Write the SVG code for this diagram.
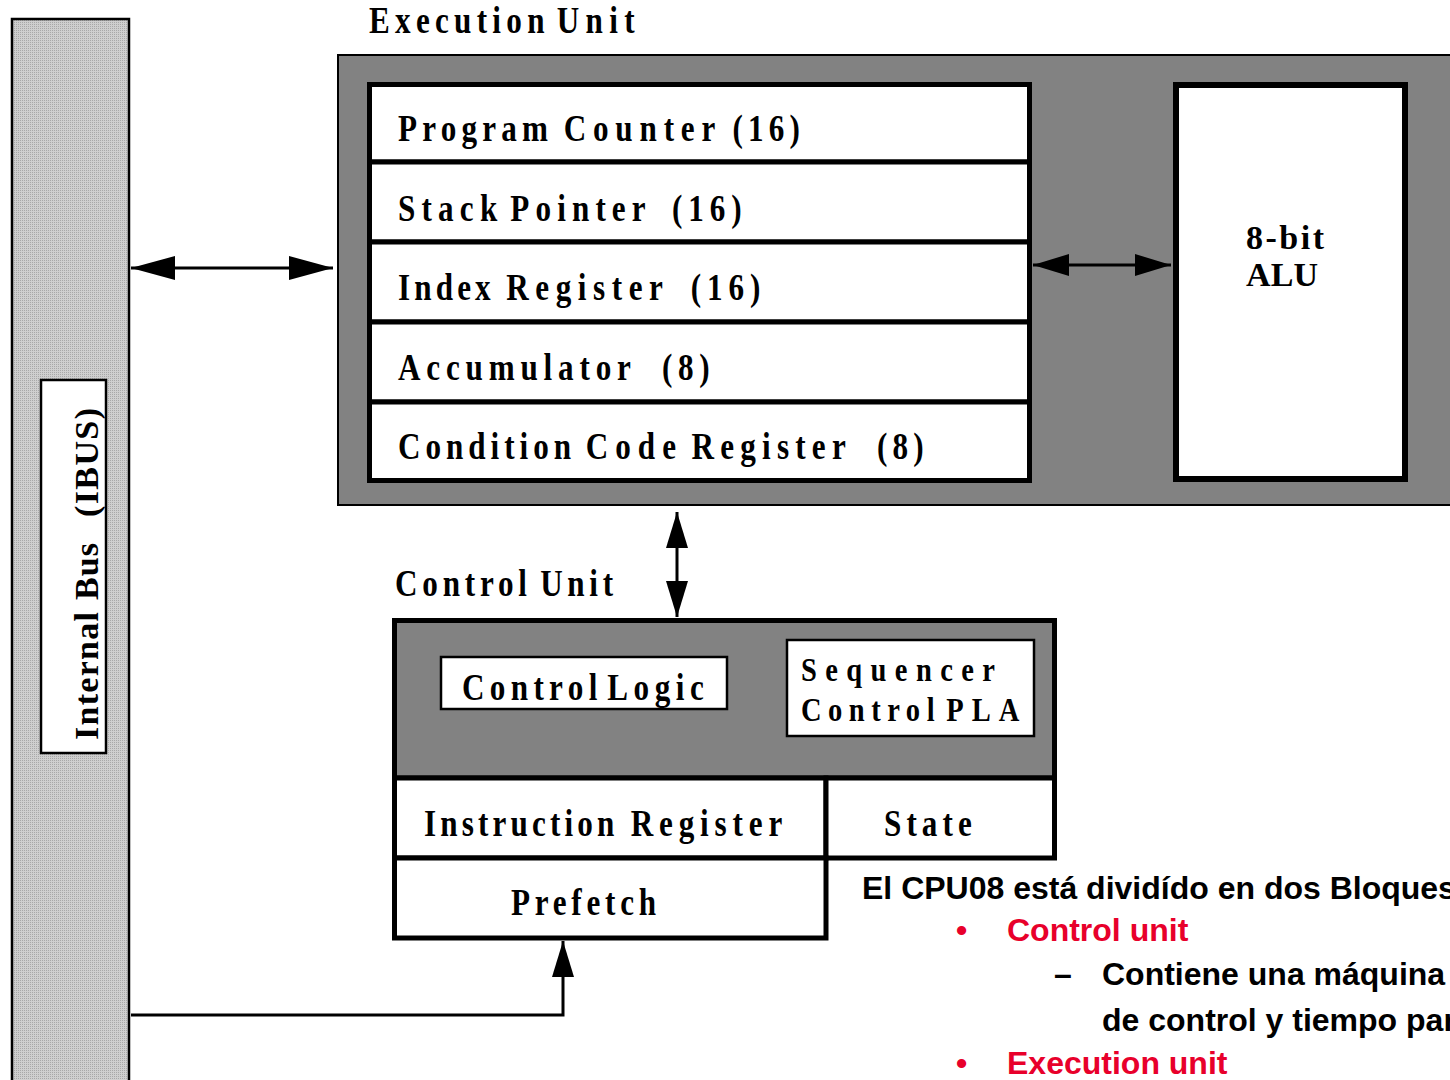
<svg xmlns="http://www.w3.org/2000/svg" width="1450" height="1080" viewBox="0 0 1450 1080">
<style>
.cond{font-family:"Liberation Serif","Times New Roman",serif;font-weight:bold;font-size:38px;fill:#000}
.cond-s{font-family:"Liberation Serif","Times New Roman",serif;font-weight:bold;font-size:34px;fill:#000}
.serif{font-family:"Liberation Serif","Times New Roman",serif;font-weight:bold;font-size:34px;fill:#000}
.sans{font-family:"Liberation Sans",Arial,sans-serif;font-weight:bold;font-size:32px;fill:#000}
.red{fill:#e8002b}
.panel{fill:#828282;stroke:#000;stroke-width:2}
.reg{fill:#fff;stroke:#000;stroke-width:5}
.thin{fill:#fff;stroke:#000;stroke-width:2.5}
.conn{fill:none;stroke:#000;stroke-width:3}
</style>
<defs>
<pattern id="hatch" width="2" height="2" patternUnits="userSpaceOnUse">
<rect width="2" height="2" fill="#cfcfcf"/>
<rect width="1" height="1" fill="#a8a8a8"/>
</pattern>
<marker id="big" viewBox="0 0 44 24" markerUnits="userSpaceOnUse" markerWidth="44" markerHeight="24" refX="44" refY="12" orient="auto-start-reverse">
<path d="M0,0 L44,12 L0,24 z" fill="#000"/>
</marker>
<marker id="sm" viewBox="0 0 36 22" markerUnits="userSpaceOnUse" markerWidth="36" markerHeight="22" refX="36" refY="11" orient="auto-start-reverse">
<path d="M0,0 L36,11 L0,22 z" fill="#000"/>
</marker>
</defs>

<g id="internal-bus">
<rect x="12" y="19" width="117" height="1080" fill="url(#hatch)" stroke="#000" stroke-width="2.5"/>
<rect x="41" y="380" width="65" height="373" class="thin"/>
<text class="serif" transform="translate(98,740) rotate(-90)"><tspan x="0" textLength="128">Internal</tspan><tspan x="140" textLength="57">Bus</tspan><tspan x="223" textLength="109">(IBUS)</tspan></text>
</g>

<g id="execution-unit">
<rect x="338" y="55" width="1130" height="450" class="panel"/>
<text class="cond" transform="translate(369,33) scale(0.82,1)"><tspan x="0" textLength="214">Execution</tspan><tspan x="229" textLength="95">Unit</tspan></text>
</g>

<g id="program-counter">
<rect x="369.5" y="84.5" width="660" height="77.5" class="reg"/>
<text class="cond" transform="translate(398,141) scale(0.82,1)"><tspan x="0" textLength="183">Program</tspan><tspan x="202" textLength="185">Counter</tspan><tspan x="408" textLength="82">(16)</tspan></text>
</g>
<g id="stack-pointer">
<rect x="369.5" y="162" width="660" height="80" class="reg"/>
<text class="cond" transform="translate(398,221) scale(0.82,1)"><tspan x="0" textLength="121">Stack</tspan><tspan x="137" textLength="165">Pointer</tspan><tspan x="334" textLength="85">(16)</tspan></text>
</g>
<g id="index-register">
<rect x="369.5" y="242" width="660" height="80" class="reg"/>
<text class="cond" transform="translate(398,300) scale(0.82,1)"><tspan x="0" textLength="113">Index</tspan><tspan x="132" textLength="191">Register</tspan><tspan x="357" textLength="85">(16)</tspan></text>
</g>
<g id="accumulator">
<rect x="369.5" y="322" width="660" height="80" class="reg"/>
<text class="cond" transform="translate(398,380) scale(0.82,1)"><tspan x="0" textLength="284">Accumulator</tspan><tspan x="322" textLength="58">(8)</tspan></text>
</g>
<g id="condition-code-register">
<rect x="369.5" y="402" width="660" height="78.5" class="reg"/>
<text class="cond" transform="translate(398,459) scale(0.82,1)"><tspan x="0" textLength="211">Condition</tspan><tspan x="229" textLength="110">Code</tspan><tspan x="358" textLength="188">Register</tspan><tspan x="584" textLength="57">(8)</tspan></text>
</g>

<g id="alu">
<rect x="1176" y="85" width="229" height="394" fill="#fff" stroke="#000" stroke-width="6"/>
<text class="serif" x="1246" y="249" textLength="78">8-bit</text>
<text class="serif" x="1246" y="286" textLength="72">ALU</text>
</g>

<g id="control-unit">
<rect x="394.5" y="620.5" width="660" height="157.5" fill="#828282" stroke="#000" stroke-width="5"/>
<text class="cond" transform="translate(395,596) scale(0.82,1)"><tspan x="0" textLength="161">Control</tspan><tspan x="177" textLength="89">Unit</tspan></text>
</g>
<g id="control-logic">
<rect x="441" y="657" width="286" height="52" class="thin"/>
<text class="cond" transform="translate(462,700) scale(0.82,1)"><tspan x="0" textLength="165">Control</tspan><tspan x="177" textLength="118">Logic</tspan></text>
</g>
<g id="sequencer-control-pla">
<rect x="787" y="640" width="247" height="96" class="thin"/>
<text class="cond-s" transform="translate(801,681) scale(0.84,1)" textLength="231">Sequencer</text>
<text class="cond-s" transform="translate(801,721) scale(0.84,1)"><tspan x="0" textLength="159">Control</tspan><tspan x="173" textLength="87">PLA</tspan></text>
</g>
<g id="instruction-register">
<rect x="394.5" y="778" width="431.5" height="80" class="reg"/>
<text class="cond" transform="translate(424,836) scale(0.82,1)"><tspan x="0" textLength="232">Instruction</tspan><tspan x="252" textLength="185">Register</tspan></text>
</g>
<g id="state">
<rect x="826" y="778" width="228.5" height="80" class="reg"/>
<text class="cond" transform="translate(884,836) scale(0.82,1)" textLength="107">State</text>
</g>
<g id="prefetch">
<rect x="394.5" y="858" width="431.5" height="80" class="reg"/>
<text class="cond" transform="translate(511,915) scale(0.82,1)" textLength="177">Prefetch</text>
</g>

<g id="connectors">
<line x1="131" y1="268" x2="333" y2="268" class="conn" marker-start="url(#big)" marker-end="url(#big)"/>
<line x1="1033" y1="265" x2="1171" y2="265" class="conn" marker-start="url(#sm)" marker-end="url(#sm)"/>
<line x1="677" y1="512" x2="677" y2="617" class="conn" marker-start="url(#sm)" marker-end="url(#sm)"/>
<polyline points="131,1015 563,1015 563,941" class="conn" marker-end="url(#sm)"/>
</g>

<g id="notes">
<text class="sans" x="862" y="899">El CPU08 está dividído en dos Bloques</text>
<text class="sans red" x="956" y="941">•</text>
<text class="sans red" x="1007" y="941">Control unit</text>
<text class="sans" x="1054" y="985">–</text>
<text class="sans" x="1102" y="985">Contiene una máquina</text>
<text class="sans" x="1102" y="1031">de control y tiempo par</text>
<text class="sans red" x="956" y="1074">•</text>
<text class="sans red" x="1007" y="1074">Execution unit</text>
</g>
</svg>
